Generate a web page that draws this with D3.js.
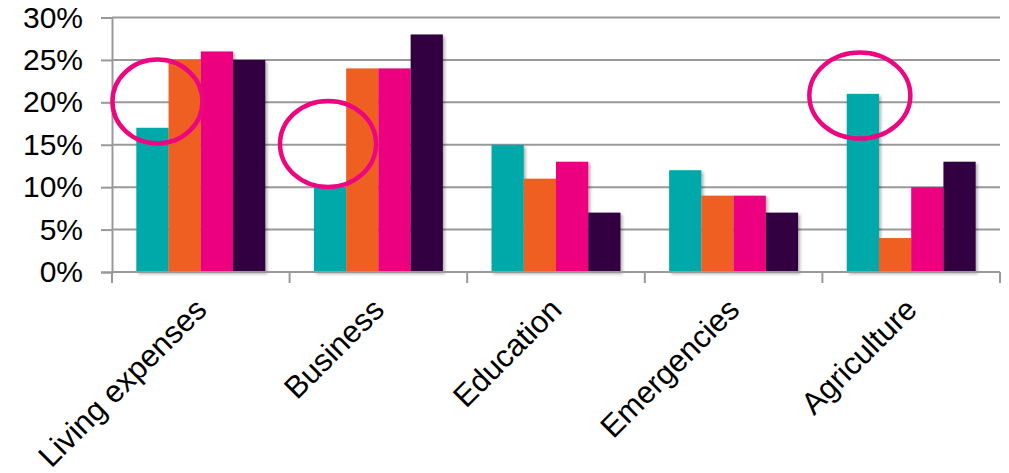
<!DOCTYPE html>
<html>
<head>
<meta charset="utf-8">
<script src="https://cdn.jsdelivr.net/npm/d3@7"></script>
<style>
  html, body { margin: 0; padding: 0; background: #fff; }
  svg { display: block; }
  text { font-family: Arial, "Liberation Sans", sans-serif; fill: #000; }
</style>
</head>
<body>
<svg id="chart" width="1009" height="473"></svg>
<script>
// Loan use categories and the four survey series (share of respondents)
const categories = ["Living expenses", "Business", "Education", "Emergencies", "Agriculture"];
const seriesNames = ["Series A", "Series B", "Series C", "Series D"];
const seriesA = [0.17, 0.10, 0.15, 0.12, 0.21];
const seriesB = [0.25, 0.24, 0.11, 0.09, 0.04];
const seriesC = [0.26, 0.24, 0.13, 0.09, 0.10];
const seriesD = [0.25, 0.28, 0.07, 0.07, 0.13];
const seriesColors = ["#00a9a9", "#f05f24", "#ec0680", "#31003f"];
const yTicks = [0, 0.05, 0.10, 0.15, 0.20, 0.25, 0.30];

// Highlighted values (circled on the first series)
const circledCategories = ["Living expenses", "Business", "Agriculture"];
const circledValues = [0.201, 0.151, 0.208];

const series = [seriesA, seriesB, seriesC, seriesD];

const svg = d3.select("#chart");
const plotLeft = 112, plotRight = 1000, plotTop = 17.5, plotBottom = 272;

const x0 = d3.scaleBand().domain(categories).range([plotLeft, plotRight])
  .paddingInner(0.274).paddingOuter(0.137);
const x1 = d3.scaleBand().domain(d3.range(series.length)).range([0, x0.bandwidth()]);
const y = d3.scaleLinear().domain([0, 0.30]).range([plotBottom, plotTop]);

const defs = svg.append("defs");
const f = defs.append("filter").attr("id", "shadow")
  .attr("x", "-10%").attr("y", "-10%").attr("width", "130%").attr("height", "130%");
f.append("feDropShadow").attr("dx", 2).attr("dy", 2).attr("stdDeviation", 1.5)
  .attr("flood-color", "#000").attr("flood-opacity", 0.3);

// Horizontal gridlines
svg.append("g").selectAll("line").data(yTicks.slice(1)).join("line")
  .attr("x1", plotLeft).attr("x2", plotRight)
  .attr("y1", d => y(d)).attr("y2", d => y(d))
  .attr("stroke", "#999").attr("stroke-width", 2);

// Y axis with outward ticks
const yAxis = d3.axisLeft(y).tickValues(yTicks).tickFormat(d3.format(".0%"))
  .tickSize(11).tickPadding(18);
const gy = svg.append("g").attr("transform", `translate(${plotLeft},0)`).call(yAxis);
gy.select(".domain").attr("stroke", "#999").attr("stroke-width", 2);
gy.selectAll(".tick line").attr("stroke", "#999").attr("stroke-width", 2);
gy.selectAll(".tick text").attr("font-size", 30).attr("fill", "#000")
  .attr("font-family", "Arial, 'Liberation Sans', sans-serif");

// Bars
const groups = svg.append("g").selectAll("g").data(categories).join("g")
  .attr("transform", d => `translate(${x0(d)},0)`);
groups.selectAll("rect")
  .data((c, i) => series.map((s, k) => ({ k, v: s[i] })))
  .join("rect")
  .attr("x", d => x1(d.k))
  .attr("width", x1.bandwidth())
  .attr("y", d => y(d.v))
  .attr("height", d => y(0) - y(d.v))
  .attr("fill", d => seriesColors[d.k])
  .attr("filter", "url(#shadow)");

// X axis baseline and category boundary ticks
const gx = svg.append("g");
gx.append("line").attr("x1", plotLeft).attr("x2", plotRight).attr("y1", plotBottom).attr("y2", plotBottom)
  .attr("stroke", "#999").attr("stroke-width", 2);
const step = x0.step();
gx.selectAll("line.bt").data(d3.range(categories.length + 1)).join("line")
  .attr("class", "bt")
  .attr("x1", i => plotLeft + i * step).attr("x2", i => plotLeft + i * step)
  .attr("y1", plotBottom).attr("y2", plotBottom + 11)
  .attr("stroke", "#999").attr("stroke-width", 2);

// Rotated category labels
gx.selectAll("text").data(categories).join("text")
  .attr("transform", d => `translate(${x0(d) + x0.bandwidth() / 2 - 8},${plotBottom + 24}) rotate(-45)`)
  .attr("text-anchor", "end")
  .attr("dy", "0.71em")
  .attr("font-size", 31)
  .text(d => d);

// Highlight ellipses around selected first-series values
const ellipseShape = [
  { dx: 5, rx: 45, ry: 42 },
  { dx: -2, rx: 48, ry: 43 },
  { dx: -3, rx: 50.5, ry: 43 }
];
svg.append("g").selectAll("ellipse").data(circledCategories).join("ellipse")
  .attr("cx", (c, i) => x0(c) + x1(0) + x1.bandwidth() / 2 + ellipseShape[i].dx)
  .attr("cy", (c, i) => y(circledValues[i]))
  .attr("rx", (c, i) => ellipseShape[i].rx)
  .attr("ry", (c, i) => ellipseShape[i].ry)
  .attr("fill", "none")
  .attr("stroke", "#ec0680")
  .attr("stroke-width", 4.5);
</script>
</body>
</html>
